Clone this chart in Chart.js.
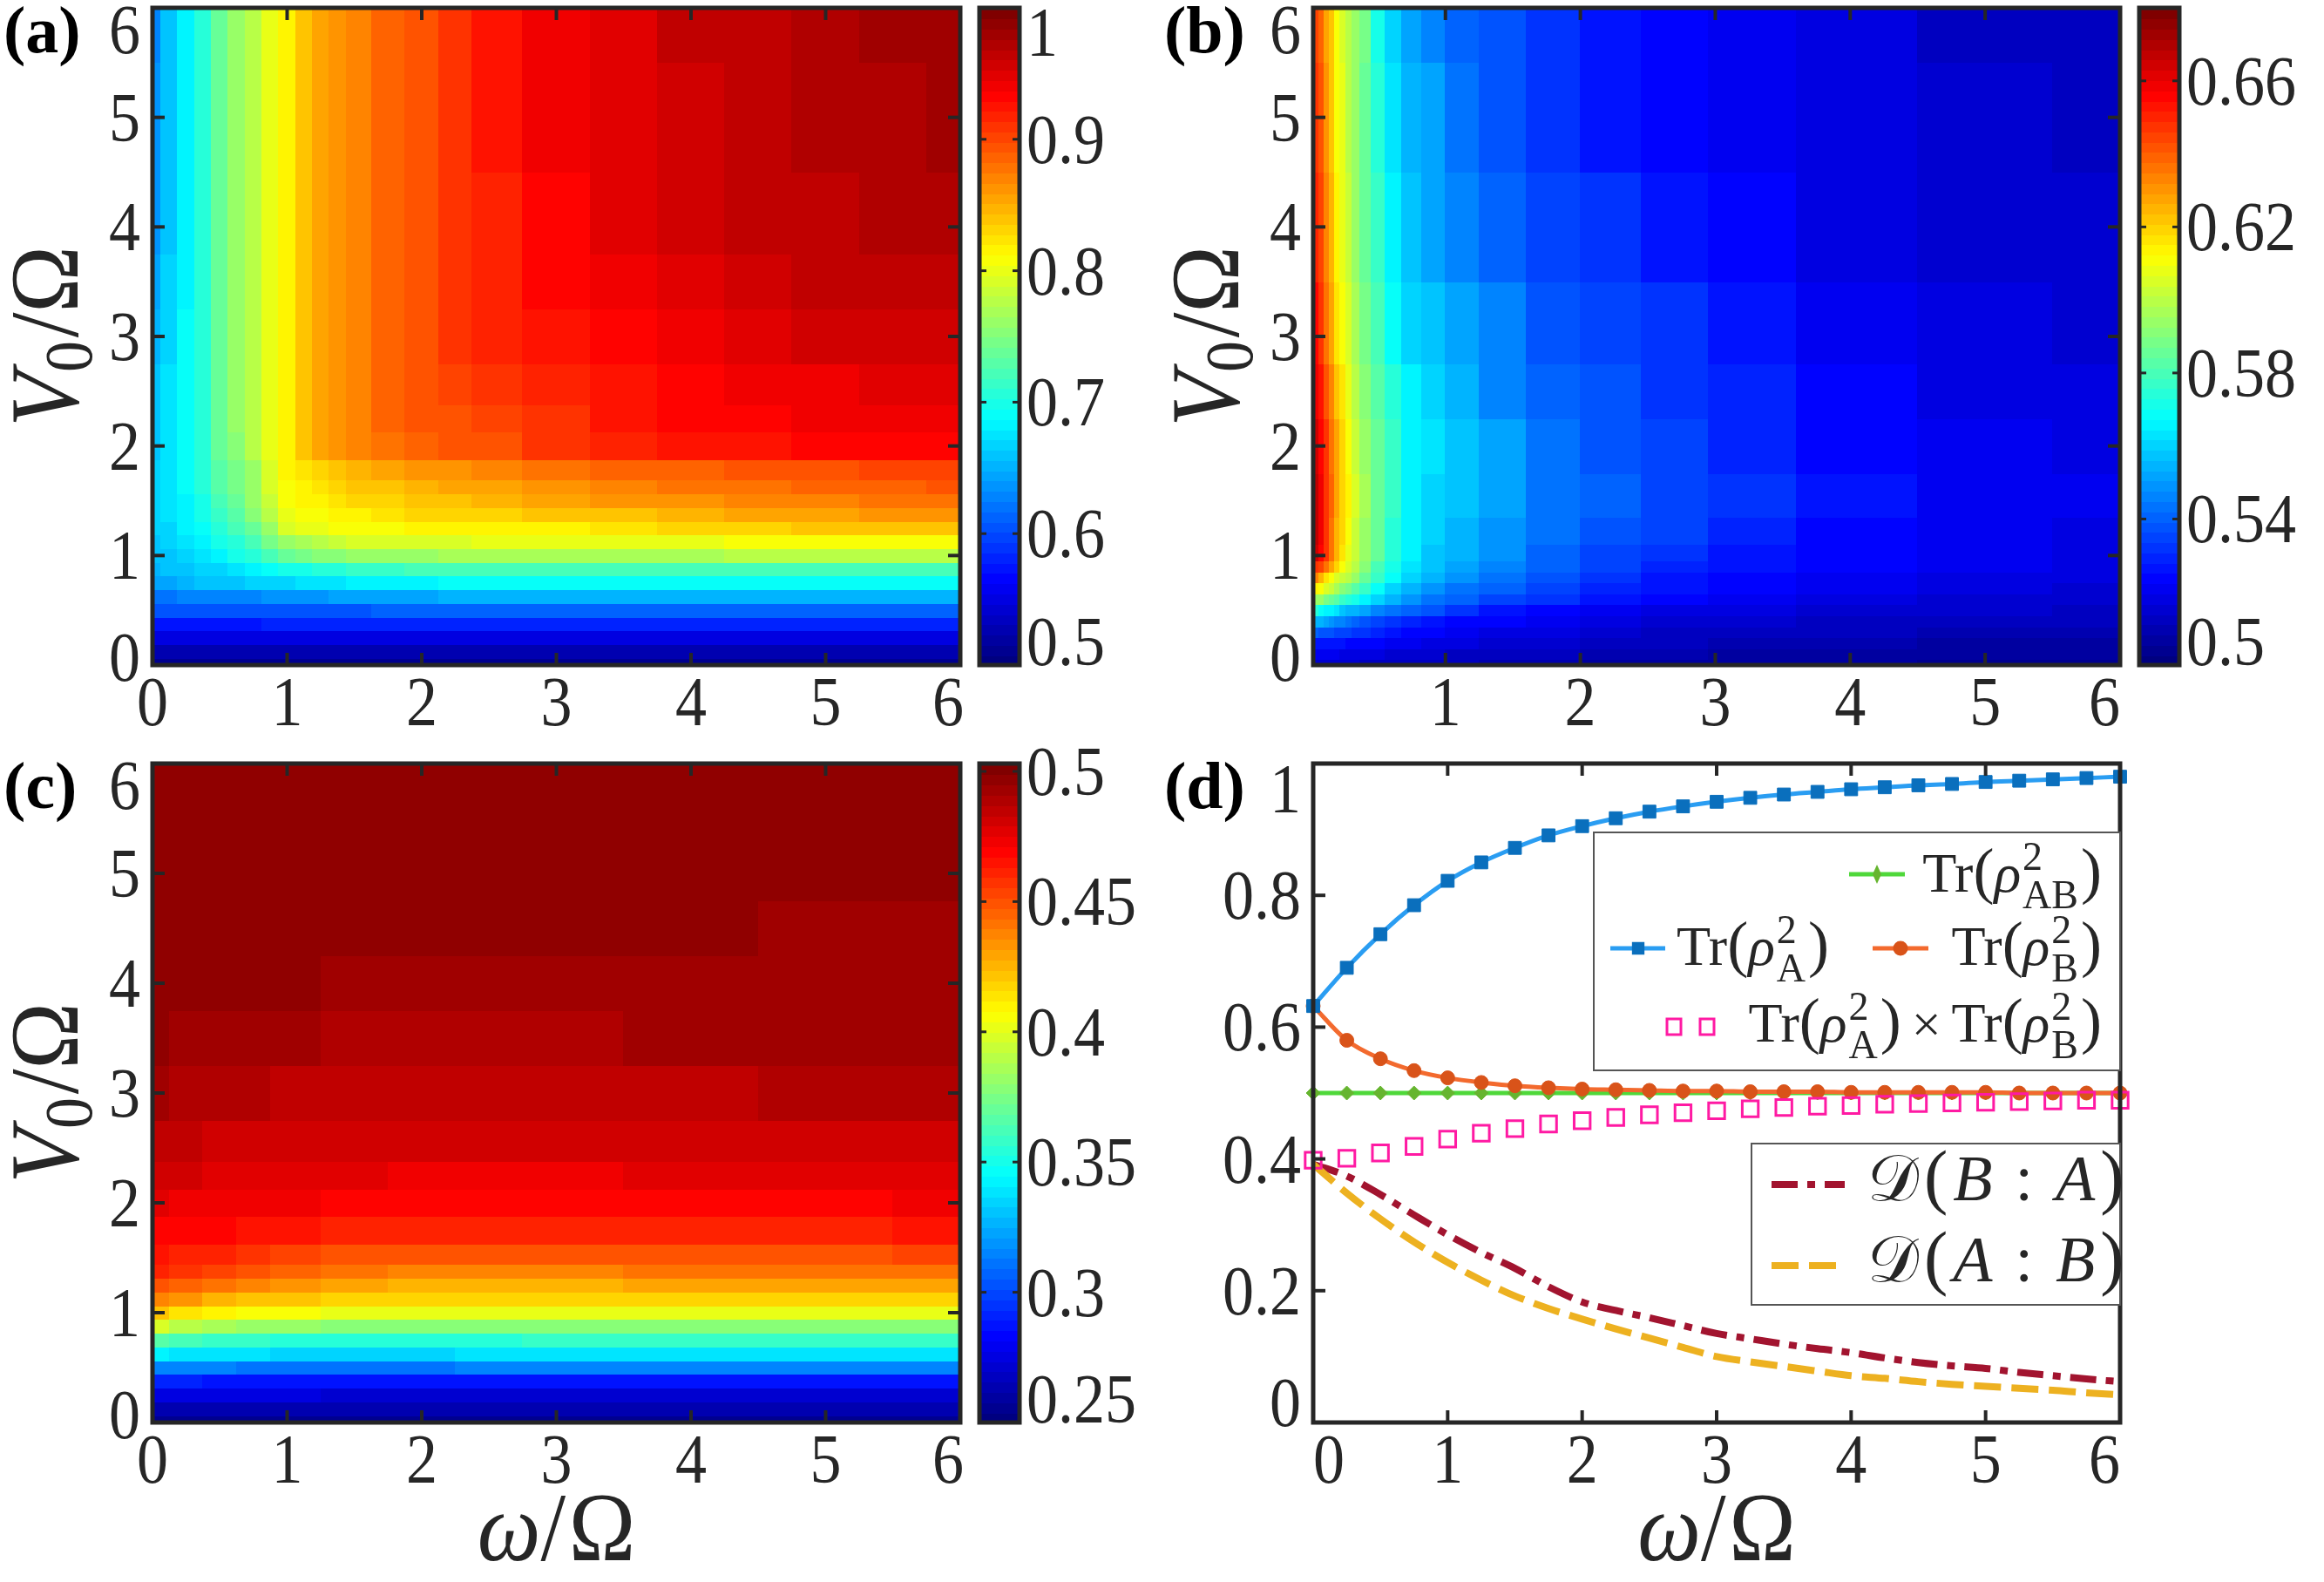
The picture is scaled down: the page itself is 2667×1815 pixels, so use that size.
<!DOCTYPE html>
<html>
<head>
<meta charset="utf-8">
<script src="https://cdn.jsdelivr.net/npm/chart.js@4.4.1/dist/chart.umd.min.js"></script>
<style>
  html, body { margin: 0; padding: 0; background: #fff; }
  #fig { position: relative; width: 2667px; height: 1815px; }
  #fig canvas { position: absolute; left: 0; top: 0; }
</style>
</head>
<body>
<div id="fig">
  <canvas id="chartA" width="2667" height="1815"></canvas>
  <canvas id="chartB" width="2667" height="1815"></canvas>
  <canvas id="chartC" width="2667" height="1815"></canvas>
  <canvas id="chartD" width="2667" height="1815"></canvas>
</div>
<script>
// ---- data: axis ticks ----
const heatTicks = [0, 1, 2, 3, 4, 5, 6];
const heatTicksB = [1, 2, 3, 4, 5, 6];
const lineYTicks = [0, 0.2, 0.4, 0.6, 0.8, 1];
const lineYLabels = ['0', '0.2', '0.4', '0.6', '0.8', '1'];
const cbTicksA = [0.5, 0.6, 0.7, 0.8, 0.9, 1];
const cbLabelsA = ['0.5', '0.6', '0.7', '0.8', '0.9', '1'];
const cbTicksB = [0.5, 0.54, 0.58, 0.62, 0.66];
const cbLabelsB = ['0.5', '0.54', '0.58', '0.62', '0.66'];
const cbTicksC = [0.25, 0.3, 0.35, 0.4, 0.45, 0.5];
const cbLabelsC = ['0.25', '0.3', '0.35', '0.4', '0.45', '0.5'];

// ---- data: panel (a), rows = V0, columns = omega ----
const omegaA = [0, 0.125, 0.25, 0.375, 0.5, 0.625, 0.75, 0.875, 1, 1.125, 1.25, 1.375, 1.5, 1.75, 2, 2.25, 2.5, 3, 3.5, 4, 4.5, 5, 5.5, 6];
const v0A = [0, 0.125, 0.25, 0.375, 0.5, 0.625, 0.75, 0.875, 1, 1.125, 1.25, 1.375, 1.5, 1.625, 1.75, 2, 2.25, 2.5, 3, 3.5, 4, 5, 6];
const purityA = [
  [.51, .51, .51, .51, .51, .51, .51, .51, .51, .51, .51, .51, .51, .51, .51, .51, .51, .51, .51, .51, .51, .51, .51, .51],
  [.525, .525, .525, .525, .525, .525, .525, .525, .525, .525, .525, .525, .525, .525, .525, .525, .525, .525, .525, .525, .525, .525, .525, .525],
  [.55, .55, .55, .55, .55, .55, .55, .55, .55, .55, .55, .55, .55, .55, .55, .55, .55, .55, .55, .55, .55, .55, .55, .55],
  [.57, .572, .573, .574, .575, .575, .575, .576, .576, .577, .577, .577, .577, .578, .578, .578, .578, .578, .578, .578, .578, .578, .578, .578],
  [.60, .60, .60, .60, .60, .60, .60, .60, .60, .602, .605, .606, .607, .608, .608, .609, .61, .61, .61, .61, .61, .61, .61, .61],
  [.62, .622, .625, .628, .63, .63, .63, .631, .632, .635, .637, .64, .642, .644, .645, .647, .648, .65, .65, .65, .65, .65, .65, .65],
  [.64, .645, .65, .655, .66, .662, .665, .668, .67, .673, .675, .678, .68, .683, .685, .687, .688, .69, .69, .69, .69, .69, .69, .69],
  [.65, .655, .66, .665, .67, .675, .68, .688, .695, .70, .705, .71, .715, .718, .72, .721, .722, .725, .725, .725, .725, .725, .725, .725],
  [.655, .66, .665, .675, .685, .695, .705, .72, .735, .743, .75, .755, .76, .763, .765, .767, .768, .77, .772, .773, .774, .775, .775, .775],
  [.66, .665, .675, .685, .695, .71, .725, .745, .765, .773, .78, .785, .79, .793, .795, .797, .798, .80, .802, .805, .807, .81, .81, .812],
  [.665, .67, .68, .69, .705, .72, .74, .765, .79, .798, .805, .808, .81, .813, .815, .817, .818, .82, .825, .83, .835, .84, .843, .845],
  [.665, .672, .683, .695, .715, .73, .75, .775, .80, .806, .812, .816, .82, .825, .83, .833, .835, .838, .845, .85, .855, .86, .863, .865],
  [.665, .675, .685, .70, .725, .74, .76, .785, .81, .815, .82, .825, .83, .835, .84, .845, .85, .855, .862, .868, .872, .875, .878, .88],
  [.665, .676, .688, .703, .728, .745, .763, .79, .813, .82, .826, .832, .838, .845, .85, .856, .86, .868, .874, .88, .884, .888, .891, .893],
  [.665, .677, .69, .705, .73, .748, .765, .792, .815, .825, .835, .843, .85, .856, .862, .866, .87, .88, .886, .892, .896, .90, .903, .905],
  [.66, .675, .69, .71, .74, .757, .775, .80, .82, .84, .855, .865, .873, .882, .89, .895, .90, .91, .92, .925, .93, .935, .938, .94],
  [.657, .673, .69, .71, .74, .758, .777, .80, .82, .84, .855, .865, .873, .885, .893, .90, .906, .916, .926, .933, .937, .941, .944, .946],
  [.655, .672, .69, .71, .74, .759, .778, .80, .82, .84, .855, .865, .873, .886, .895, .903, .91, .922, .932, .94, .944, .947, .95, .952],
  [.65, .668, .687, .708, .74, .76, .78, .80, .82, .84, .855, .865, .873, .887, .90, .91, .918, .93, .94, .948, .953, .957, .96, .962],
  [.642, .665, .684, .707, .74, .76, .78, .80, .82, .84, .855, .865, .873, .888, .90, .912, .921, .933, .945, .953, .96, .965, .968, .97],
  [.635, .662, .682, .706, .74, .76, .78, .80, .82, .84, .855, .865, .873, .888, .90, .913, .923, .937, .949, .958, .965, .97, .974, .977],
  [.632, .66, .68, .705, .74, .76, .78, .80, .82, .84, .855, .865, .873, .888, .90, .914, .925, .941, .953, .962, .969, .975, .98, .984],
  [.63, .66, .68, .705, .74, .76, .78, .80, .82, .84, .855, .865, .873, .888, .90, .915, .928, .944, .956, .965, .972, .978, .983, .988]
];

// ---- data: panel (b) ----
const omegaB = [0.04, 0.08, 0.12, 0.16, 0.2, 0.24, 0.28, 0.33, 0.4, 0.5, 0.6, 0.75, 0.9, 1.1, 1.4, 1.8, 2.2, 2.7, 3.2, 4, 5, 6];
const v0B = [0, 0.1, 0.2, 0.3, 0.4, 0.5, 0.6, 0.7, 0.8, 0.9, 1, 1.2, 1.5, 2, 2.5, 3, 4, 5, 6];
const purityB = [
  [.515, .515, .514, .514, .514, .513, .513, .513, .512, .512, .511, .511, .51, .51, .509, .508, .507, .506, .505, .505, .504, .504],
  [.52, .52, .52, .519, .519, .518, .518, .517, .517, .516, .515, .514, .513, .512, .511, .51, .509, .508, .507, .506, .505, .505],
  [.527, .527, .526, .526, .525, .525, .524, .524, .523, .522, .521, .52, .518, .517, .515, .513, .511, .51, .509, .508, .507, .506],
  [.54, .538, .537, .536, .535, .534, .533, .532, .53, .528, .526, .524, .522, .52, .518, .516, .514, .512, .511, .51, .509, .508],
  [.555, .553, .551, .549, .547, .545, .543, .541, .538, .535, .532, .529, .526, .524, .522, .519, .517, .515, .513, .512, .511, .51],
  [.575, .57, .567, .565, .562, .557, .555, .553, .55, .546, .543, .54, .536, .532, .527, .524, .521, .518, .516, .514, .513, .512],
  [.595, .593, .59, .586, .582, .578, .575, .571, .566, .56, .554, .548, .543, .539, .535, .53, .526, .523, .52, .517, .515, .514],
  [.615, .612, .607, .602, .597, .592, .588, .583, .577, .569, .561, .554, .548, .543, .539, .533, .529, .525, .522, .519, .517, .515],
  [.633, .627, .618, .612, .606, .602, .599, .594, .587, .577, .569, .56, .554, .549, .544, .537, .532, .527, .524, .52, .518, .516],
  [.65, .645, .638, .628, .619, .612, .606, .60, .591, .581, .571, .562, .556, .551, .546, .539, .534, .529, .526, .522, .519, .517],
  [.665, .656, .648, .636, .625, .617, .61, .604, .595, .585, .573, .565, .558, .553, .548, .541, .535, .53, .527, .523, .52, .518],
  [.668, .66, .65, .638, .627, .619, .611, .604, .595, .585, .575, .566, .56, .555, .549, .543, .538, .533, .529, .524, .52, .518],
  [.668, .66, .65, .64, .63, .621, .613, .605, .596, .586, .576, .567, .561, .556, .55, .544, .539, .534, .53, .525, .521, .519],
  [.665, .658, .648, .638, .628, .62, .612, .604, .595, .585, .576, .567, .562, .556, .55, .543, .538, .533, .529, .524, .52, .518],
  [.66, .653, .643, .633, .622, .616, .608, .601, .592, .582, .573, .565, .559, .553, .547, .54, .536, .531, .528, .523, .518, .516],
  [.656, .648, .638, .628, .617, .612, .605, .598, .589, .579, .569, .561, .556, .55, .545, .538, .534, .53, .527, .521, .517, .515],
  [.652, .645, .635, .625, .613, .61, .602, .595, .585, .576, .565, .558, .552, .545, .54, .534, .531, .526, .524, .518, .514, .513],
  [.648, .642, .632, .623, .612, .608, .601, .595, .586, .574, .563, .555, .55, .543, .538, .531, .527, .524, .521, .517, .513, .512],
  [.645, .64, .63, .622, .612, .607, .60, .595, .588, .572, .56, .552, .547, .541, .536, .53, .526, .523, .52, .516, .512, .51]
];

// ---- data: panel (c) ----
const omegaC = [0, 0.25, 0.5, 0.75, 1, 1.5, 2, 2.5, 3, 4, 5, 6];
const v0C = [0, 0.125, 0.25, 0.375, 0.5, 0.625, 0.75, 0.875, 1, 1.125, 1.25, 1.375, 1.5, 1.75, 2, 2.25, 2.5, 3, 3.5, 4, 4.5, 5, 6];
const purityC = [
  [.256, .256, .256, .256, .256, .256, .256, .256, .256, .256, .256, .256],
  [.262, .262, .262, .262, .262, .262, .262, .262, .262, .262, .262, .262],
  [.275, .274, .274, .273, .273, .272, .272, .272, .272, .272, .272, .272],
  [.29, .289, .288, .287, .287, .286, .286, .285, .285, .285, .285, .285],
  [.315, .314, .313, .312, .312, .312, .312, .313, .313, .314, .315, .315],
  [.342, .34, .338, .337, .336, .336, .336, .337, .338, .339, .34, .34],
  [.368, .364, .36, .358, .356, .355, .355, .356, .357, .357, .358, .358],
  [.397, .392, .387, .384, .382, .38, .379, .379, .379, .379, .38, .38],
  [.422, .416, .411, .407, .405, .403, .402, .402, .402, .402, .403, .403],
  [.438, .433, .428, .424, .421, .418, .417, .417, .417, .417, .418, .419],
  [.452, .447, .442, .437, .433, .43, .428, .428, .428, .429, .43, .432],
  [.461, .457, .453, .449, .446, .442, .44, .44, .44, .441, .442, .444],
  [.467, .464, .461, .458, .455, .452, .45, .45, .45, .451, .452, .454],
  [.472, .471, .469, .467, .466, .464, .463, .462, .462, .463, .464, .465],
  [.477, .476, .475, .474, .473, .472, .471, .47, .47, .471, .472, .473],
  [.483, .481, .479, .478, .477, .477, .476, .476, .476, .477, .478, .479],
  [.487, .485, .484, .483, .482, .481, .481, .481, .481, .482, .483, .484],
  [.494, .492, .49, .489, .488, .487, .487, .487, .487, .488, .489, .49],
  [.497, .496, .495, .494, .493, .492, .491, .491, .492, .493, .493, .494],
  [.499, .498, .498, .497, .497, .496, .495, .495, .495, .495, .495, .495],
  [.50, .50, .499, .499, .499, .499, .499, .498, .497, .497, .496, .496],
  [.50, .50, .50, .50, .50, .50, .50, .50, .499, .499, .499, .499],
  [.50, .50, .50, .50, .50, .50, .50, .50, .50, .50, .50, .50]
];

// ---- data: panel (d) ----
const omegaD = [0, 0.25, 0.5, 0.75, 1, 1.25, 1.5, 1.75, 2, 2.25, 2.5, 2.75, 3, 3.25, 3.5, 3.75, 4, 4.25, 4.5, 4.75, 5, 5.25, 5.5, 5.75, 6];
const trA = [0.632, 0.690, 0.741, 0.785, 0.822, 0.850, 0.872, 0.891, 0.905, 0.917, 0.927, 0.935, 0.942, 0.948, 0.953, 0.957, 0.961, 0.964, 0.967, 0.969, 0.972, 0.974, 0.976, 0.978, 0.980];
const trB = [0.632, 0.580, 0.552, 0.534, 0.523, 0.516, 0.511, 0.508, 0.506, 0.505, 0.504, 0.503, 0.503, 0.502, 0.502, 0.502, 0.501, 0.501, 0.501, 0.501, 0.501, 0.500, 0.500, 0.500, 0.500];
const trAB = [0.5, 0.5, 0.5, 0.5, 0.5, 0.5, 0.5, 0.5, 0.5, 0.5, 0.5, 0.5, 0.5, 0.5, 0.5, 0.5, 0.5, 0.5, 0.5, 0.5, 0.5, 0.5, 0.5, 0.5, 0.5];
const trProd = [0.398, 0.401, 0.409, 0.419, 0.430, 0.439, 0.446, 0.453, 0.458, 0.463, 0.467, 0.470, 0.473, 0.476, 0.478, 0.480, 0.481, 0.483, 0.484, 0.485, 0.486, 0.487, 0.488, 0.489, 0.489];
const discBA = [0.392, 0.374, 0.346, 0.315, 0.285, 0.258, 0.234, 0.206, 0.183, 0.170, 0.159, 0.147, 0.135, 0.127, 0.119, 0.112, 0.106, 0.098, 0.091, 0.086, 0.082, 0.076, 0.071, 0.066, 0.062];
const discAB = [0.392, 0.348, 0.309, 0.274, 0.243, 0.216, 0.192, 0.173, 0.157, 0.142, 0.128, 0.114, 0.100, 0.092, 0.085, 0.078, 0.071, 0.067, 0.062, 0.058, 0.055, 0.052, 0.049, 0.045, 0.042];

// ---- styling ----
const INK = '#262626';
const SERIF = '"Liberation Serif", "Times New Roman", Times, serif';
const TICK_FONT = '80px ' + SERIF;
const SQ = 0.9;
const FIG_W = 2667, FIG_H = 1815;

function pad(r) {
  return { left: r.l, top: r.t, right: FIG_W - r.r, bottom: FIG_H - r.b };
}

// MATLAB-like jet, 64 levels
function jet(t) {
  t = Math.max(0, Math.min(1, t));
  t = Math.round(t * 63) / 63;
  const c = v => Math.round(255 * Math.max(0, Math.min(1, v)));
  return `rgb(${c(1.5 - Math.abs(4 * t - 3))},${c(1.5 - Math.abs(4 * t - 2))},${c(1.5 - Math.abs(4 * t - 1))})`;
}

function cellEdges(centers, lo, hi) {
  const e = [lo];
  for (let i = 1; i < centers.length; i++) e.push((centers[i - 1] + centers[i]) / 2);
  e.push(hi);
  return e;
}

function tickLabel(ctx, text, x, yc, align) {
  ctx.save();
  ctx.font = TICK_FONT;
  ctx.fillStyle = INK;
  ctx.textAlign = align;
  ctx.textBaseline = 'alphabetic';
  ctx.translate(x, yc + 27);
  ctx.scale(SQ, 1);
  ctx.fillText(text, 0, 0);
  ctx.restore();
}

// draws a row of text runs (with stacked super/subscripts)
function drawRuns(ctx, runs, x, y, align, squeeze) {
  let total = 0;
  runs.forEach(r => {
    ctx.font = r.f;
    if (r.sup !== undefined) {
      r.w = Math.max(ctx.measureText(r.sup).width, ctx.measureText(r.sub || '').width);
    } else {
      r.w = ctx.measureText(r.t).width;
    }
    r.w += (r.gap || 0) + (r.pre || 0);
    total += r.w;
  });
  let cx = align === 'right' ? -total : align === 'center' ? -total / 2 : 0;
  ctx.save();
  ctx.translate(x, y);
  ctx.scale(squeeze, 1);
  ctx.fillStyle = INK;
  ctx.textAlign = 'left';
  ctx.textBaseline = 'alphabetic';
  runs.forEach(r => {
    ctx.font = r.f;
    const px = cx + (r.pre || 0);
    if (r.sup !== undefined) {
      ctx.fillText(r.sup, px, r.supDy);
      if (r.sub) ctx.fillText(r.sub, px, r.subDy);
    } else {
      ctx.fillText(r.t, px, r.dy || 0);
    }
    cx += r.w;
  });
  ctx.restore();
}

function line(ctx, x0, y0, x1, y1) {
  ctx.beginPath(); ctx.moveTo(x0, y0); ctx.lineTo(x1, y1); ctx.stroke();
}

function drawFrame(chart, xTicks, yTicks) {
  const { ctx, chartArea: a, scales: { x, y } } = chart;
  ctx.save();
  ctx.strokeStyle = INK;
  ctx.lineWidth = 4;
  xTicks.forEach(v => {
    const px = x.getPixelForValue(v);
    line(ctx, px, a.bottom, px, a.bottom - 14);
    line(ctx, px, a.top, px, a.top + 14);
  });
  yTicks.forEach(v => {
    const py = y.getPixelForValue(v);
    line(ctx, a.left, py, a.left + 14, py);
    line(ctx, a.right, py, a.right - 14, py);
  });
  ctx.lineWidth = 5;
  ctx.strokeRect(a.left, a.top, a.right - a.left, a.bottom - a.top);
  ctx.restore();
}

function drawTickLabels(chart, xTicks, xLabels, yTicks, yLabels, s) {
  const { ctx, chartArea: a, scales: { x, y } } = chart;
  xTicks.forEach((v, i) => {
    let px = x.getPixelForValue(v);
    if (Math.abs(px - a.right) < 6) px -= s.right;
    if (Math.abs(px - a.left) < 6) px += s.left;
    tickLabel(ctx, xLabels[i], px, a.bottom + 42, 'center');
  });
  yTicks.forEach((v, i) => {
    let py = y.getPixelForValue(v);
    if (Math.abs(py - a.top) < 6) py += s.top;
    if (Math.abs(py - a.bottom) < 6) py -= s.bottom;
    tickLabel(ctx, yLabels[i], a.left - 14, py, 'right');
  });
}

function panelTag(chart, tag) {
  const { ctx, chartArea: a } = chart;
  ctx.save();
  ctx.font = 'bold 76px ' + SERIF;
  ctx.fillStyle = '#000';
  ctx.textBaseline = 'alphabetic';
  ctx.fillText(tag, a.left - 171, a.top + 51);
  ctx.restore();
}

function yTitle(chart) {
  const { ctx, chartArea: a } = chart;
  ctx.save();
  ctx.translate(a.left - 86, (a.top + a.bottom) / 2);
  ctx.rotate(-Math.PI / 2);
  drawRuns(ctx, [
    { t: 'V', f: 'italic 112px ' + SERIF },
    { t: '0', f: '78px ' + SERIF, dy: 16, gap: 4 },
    { t: '/', f: '112px ' + SERIF },
    { t: 'Ω', f: '112px ' + SERIF }
  ], 0, 0, 'center', 0.92);
  ctx.restore();
}

function xTitle(chart) {
  const { ctx, chartArea: a } = chart;
  drawRuns(ctx, [
    { t: 'ω', f: 'italic 112px ' + SERIF },
    { t: '/', f: '112px ' + SERIF, gap: 4 },
    { t: 'Ω', f: '112px ' + SERIF }
  ], (a.left + a.right) / 2, a.bottom + 158, 'center', 0.92);
}

function heatPlugin(cfg) {
  return {
    id: 'heat' + cfg.tag,
    afterDraw(chart) {
      const { ctx, chartArea: a, scales: { x, y, cb } } = chart;
      const xe = cellEdges(cfg.cols, x.min, x.max);
      const ye = cellEdges(cfg.rows, y.min, y.max);
      ctx.save();
      cfg.values.forEach((row, i) => row.forEach((v, j) => {
        const x0 = Math.floor(x.getPixelForValue(xe[j]));
        const x1 = Math.ceil(x.getPixelForValue(xe[j + 1]));
        const y0 = Math.floor(y.getPixelForValue(ye[i + 1]));
        const y1 = Math.ceil(y.getPixelForValue(ye[i]));
        ctx.fillStyle = jet((v - cb.min) / (cb.max - cb.min));
        ctx.fillRect(x0, y0, x1 - x0, y1 - y0);
      }));
      // colour bar
      const bl = a.right + 22, br = a.right + 68;
      for (let k = 0; k < 64; k++) {
        const v0 = cb.min + (cb.max - cb.min) * k / 64;
        const v1 = cb.min + (cb.max - cb.min) * (k + 1) / 64;
        const p0 = Math.ceil(cb.getPixelForValue(v0));
        const p1 = Math.floor(cb.getPixelForValue(v1));
        ctx.fillStyle = jet(k / 63);
        ctx.fillRect(bl, p1, br - bl, p0 - p1 + 1);
      }
      ctx.strokeStyle = INK;
      ctx.lineWidth = 3;
      cfg.cbTicks.forEach((v, i) => {
        let py = cb.getPixelForValue(v);
        line(ctx, bl, py, bl + 8, py);
        line(ctx, br, py, br - 8, py);
        if (Math.abs(py - a.top) < 6) py += 28;
        if (Math.abs(py - a.bottom) < 6) py -= 27;
        tickLabel(ctx, cfg.cbLabels[i], br + 8, py, 'left');
      });
      ctx.lineWidth = 5;
      ctx.strokeRect(bl, a.top, br - bl, a.bottom - a.top);
      ctx.restore();

      drawFrame(chart, cfg.xTicks, heatTicks);
      drawTickLabels(chart, cfg.xTicks, cfg.xTicks.map(String), heatTicks, heatTicks.map(String),
        { top: 25, bottom: 9, left: 0, right: cfg.lastShift });
      yTitle(chart);
      if (cfg.xTitle) xTitle(chart);
      panelTag(chart, cfg.tag);
    }
  };
}

function heatChart(id, cfg) {
  return new Chart(document.getElementById(id), {
    type: 'scatter',
    data: { datasets: [] },
    options: {
      responsive: false,
      animation: false,
      devicePixelRatio: 1,
      events: [],
      layout: { padding: pad(cfg.rect) },
      plugins: { legend: { display: false }, tooltip: { enabled: false } },
      scales: {
        x: { type: 'linear', display: false, min: cfg.xMin, max: 6 },
        y: { type: 'linear', display: false, min: 0, max: 6 },
        cb: { type: 'linear', display: false, position: 'right', min: cfg.cMin, max: cfg.cMax }
      }
    },
    plugins: [heatPlugin(cfg)]
  });
}

// ---- panel (d) ----
const BLUE_LINE = '#2a9df2', BLUE_MK = '#0a6fbd';
const ORANGE_LINE = '#f36a2e', ORANGE_MK = '#d95319';
const GREEN_LINE = '#4fd83a', GREEN_MK = '#66b52f';
const PINK = '#ff1aa3';
const WINE = '#a2142f', GOLD = '#edb120';

const pts = arr => omegaD.map((w, i) => ({ x: w, y: arr[i] }));

function legendMarker(ctx, style, color, x, y, r) {
  ctx.save();
  ctx.fillStyle = color;
  ctx.strokeStyle = color;
  Chart.helpers.drawPoint(ctx, { pointStyle: style, radius: r, rotation: 0, borderWidth: 1 }, x, y);
  ctx.restore();
}

function sampleLine(ctx, color, width, dash, x0, x1, y) {
  ctx.save();
  ctx.strokeStyle = color;
  ctx.lineWidth = width;
  ctx.setLineDash(dash);
  line(ctx, x0, y, x1, y);
  ctx.restore();
}

function trRuns(sub) {
  return [
    { t: 'Tr', f: '64px ' + SERIF },
    { t: '(', f: '72px ' + SERIF },
    { t: 'ρ', f: 'italic 64px ' + SERIF, gap: 2 },
    { sup: '2', sub: sub, f: '46px ' + SERIF, supDy: -25, subDy: 19, gap: 3 },
    { t: ')', f: '72px ' + SERIF }
  ];
}

function discRuns(p, q) {
  return [
    { t: '𝒟', f: '74px "DejaVu Sans", ' + SERIF, gap: 6 },
    { t: '(', f: '82px ' + SERIF, gap: 6 },
    { t: p, f: 'italic 74px ' + SERIF, gap: 26 },
    { t: ':', f: '74px ' + SERIF, gap: 26 },
    { t: q, f: 'italic 74px ' + SERIF, gap: 6 },
    { t: ')', f: '82px ' + SERIF }
  ];
}

const legendPlugin = {
  id: 'legendD',
  afterDraw(chart) {
    const { ctx, chartArea: a } = chart;
    drawFrame(chart, heatTicks, lineYTicks);
    drawTickLabels(chart, heatTicks, heatTicks.map(String), lineYTicks, lineYLabels,
      { top: 29, bottom: 23, left: 18, right: 18 });
    xTitle(chart);
    panelTag(chart, '(d)');

    const R = a.right, T = a.top;
    // legend 1
    ctx.save();
    ctx.fillStyle = '#fff';
    ctx.fillRect(R - 604, T + 79, 604, 273);
    ctx.strokeStyle = '#555';
    ctx.lineWidth = 2;
    ctx.strokeRect(R - 604, T + 79, 604, 273);
    ctx.restore();
    sampleLine(ctx, GREEN_LINE, 5, [], R - 311, R - 247, T + 127);
    ctx.save(); ctx.fillStyle = GREEN_MK;
    ctx.beginPath(); ctx.moveTo(R - 279, T + 116); ctx.lineTo(R - 274, T + 127); ctx.lineTo(R - 279, T + 138); ctx.lineTo(R - 284, T + 127); ctx.closePath(); ctx.fill();
    ctx.restore();
    drawRuns(ctx, trRuns('AB'), R - 21, T + 147, 'right', 1);

    sampleLine(ctx, BLUE_LINE, 5, [], R - 585, R - 522, T + 212);
    legendMarker(ctx, 'rect', BLUE_MK, R - 553, T + 212, 8);
    drawRuns(ctx, trRuns('A'), R - 509, T + 231, 'left', 1);
    sampleLine(ctx, ORANGE_LINE, 5, [], R - 284, R - 220, T + 212);
    legendMarker(ctx, 'circle', ORANGE_MK, R - 252, T + 212, 7);
    drawRuns(ctx, trRuns('B'), R - 21, T + 231, 'right', 1);

    ctx.save();
    ctx.strokeStyle = PINK; ctx.lineWidth = 3;
    ctx.strokeRect(R - 520, T + 293, 16, 18);
    ctx.strokeRect(R - 482, T + 293, 16, 18);
    ctx.restore();
    const prodRuns = trRuns('A').concat([{ t: '×', f: '60px ' + SERIF, pre: 12, gap: 12 }], trRuns('B'));
    drawRuns(ctx, prodRuns, R - 21, T + 319, 'right', 1);

    // legend 2
    ctx.save();
    ctx.fillStyle = '#fff';
    ctx.fillRect(R - 423, T + 436, 423, 185);
    ctx.strokeStyle = '#555';
    ctx.lineWidth = 2;
    ctx.strokeRect(R - 423, T + 436, 423, 185);
    ctx.restore();
    sampleLine(ctx, WINE, 8, [30, 11, 9, 11], R - 400, R - 316, T + 483);
    drawRuns(ctx, discRuns('B', 'A'), R - 290, T + 501, 'left', 1);
    sampleLine(ctx, GOLD, 8, [31, 12], R - 400, R - 316, T + 576);
    drawRuns(ctx, discRuns('A', 'B'), R - 290, T + 594, 'left', 1);
  }
};

function build() {
  heatChart('chartA', {
    tag: '(a)', rect: { l: 175, t: 9, r: 1102, b: 763 }, xMin: 0, lastShift: 14,
    cols: omegaA, rows: v0A, values: purityA, cMin: 0.5, cMax: 1.0,
    cbTicks: cbTicksA, cbLabels: cbLabelsA, xTicks: heatTicks, xTitle: false
  });
  heatChart('chartB', {
    tag: '(b)', rect: { l: 1507, t: 9, r: 2433, b: 763 }, xMin: 0.02, lastShift: 18,
    cols: omegaB, rows: v0B, values: purityB, cMin: 0.5, cMax: 0.68,
    cbTicks: cbTicksB, cbLabels: cbLabelsB, xTicks: heatTicksB, xTitle: false
  });
  heatChart('chartC', {
    tag: '(c)', rect: { l: 175, t: 876, r: 1102, b: 1632 }, xMin: 0, lastShift: 14,
    cols: omegaC, rows: v0C, values: purityC, cMin: 0.25, cMax: 0.503,
    cbTicks: cbTicksC, cbLabels: cbLabelsC, xTicks: heatTicks, xTitle: true
  });

  new Chart(document.getElementById('chartD'), {
    type: 'scatter',
    data: {
      datasets: [
        { label: 'D(B:A)', data: pts(discBA), showLine: true, borderColor: WINE, borderWidth: 8,
          borderDash: [30, 11, 9, 11], pointRadius: 0, order: 6, cubicInterpolationMode: 'monotone' },
        { label: 'D(A:B)', data: pts(discAB), showLine: true, borderColor: GOLD, borderWidth: 8,
          borderDash: [31, 12], pointRadius: 0, order: 5, cubicInterpolationMode: 'monotone' },
        { label: 'Tr(rhoAB^2)', data: pts(trAB), showLine: true, borderColor: GREEN_LINE, borderWidth: 5,
          pointStyle: 'rectRot', pointRadius: 8, pointBackgroundColor: GREEN_MK, pointBorderColor: GREEN_MK,
          pointBorderWidth: 1, order: 4, clip: false },
        { label: 'Tr(rhoB^2)', data: pts(trB), showLine: true, borderColor: ORANGE_LINE, borderWidth: 5,
          pointStyle: 'circle', pointRadius: 8, pointBackgroundColor: ORANGE_MK, pointBorderColor: ORANGE_MK,
          pointBorderWidth: 1, order: 3, clip: false, cubicInterpolationMode: 'monotone' },
        { label: 'Tr(rhoA^2)', data: pts(trA), showLine: true, borderColor: BLUE_LINE, borderWidth: 5,
          pointStyle: 'rect', pointRadius: 10.5, pointBackgroundColor: BLUE_MK, pointBorderColor: BLUE_MK,
          pointBorderWidth: 1, order: 2, clip: false, cubicInterpolationMode: 'monotone' },
        { label: 'product', data: pts(trProd), showLine: false, pointStyle: 'rect', pointRadius: 13,
          pointBackgroundColor: 'rgba(0,0,0,0)', pointBorderColor: PINK, pointBorderWidth: 3, order: 1, clip: false }
      ]
    },
    options: {
      responsive: false,
      animation: false,
      devicePixelRatio: 1,
      events: [],
      layout: { padding: pad({ l: 1507, t: 876, r: 2433, b: 1632 }) },
      plugins: { legend: { display: false }, tooltip: { enabled: false } },
      scales: {
        x: { type: 'linear', display: false, min: 0, max: 6 },
        y: { type: 'linear', display: false, min: 0, max: 1 }
      }
    },
    plugins: [legendPlugin]
  });
}

const fontLoads = ['80px "Liberation Serif"', 'italic 80px "Liberation Serif"', 'bold 80px "Liberation Serif"']
  .map(f => document.fonts.load(f).catch(() => null));
Promise.all(fontLoads).then(build, build);
</script>
</body>
</html>
